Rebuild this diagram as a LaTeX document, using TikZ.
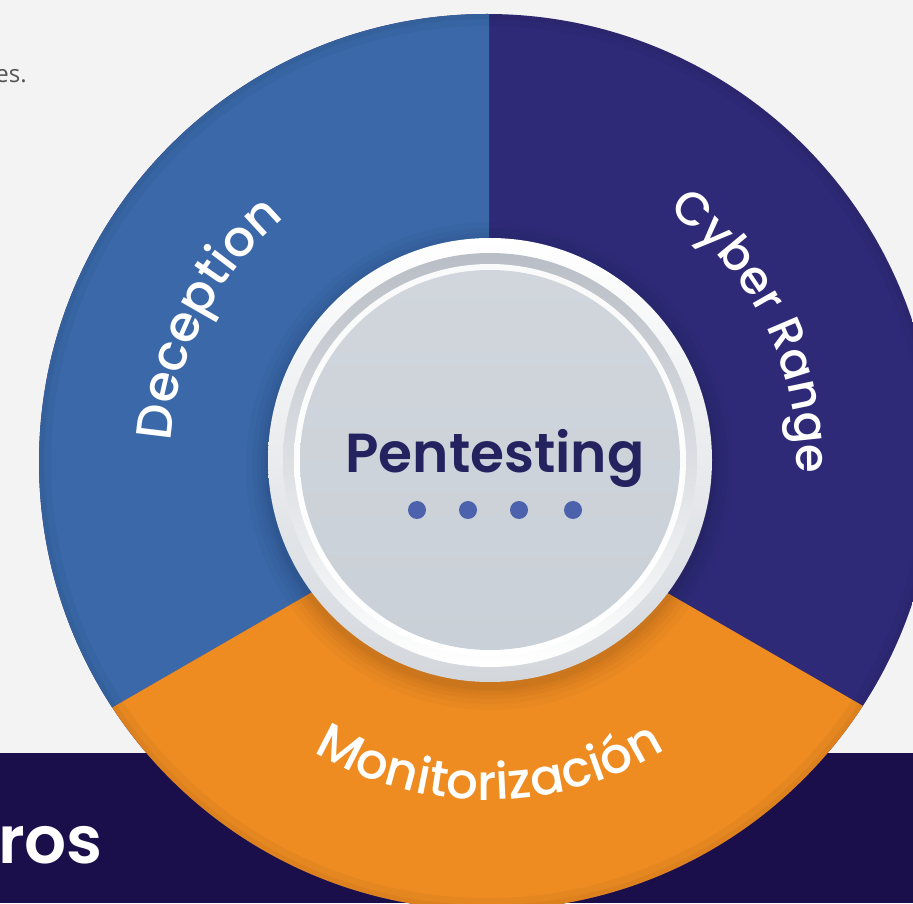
\documentclass[tikz,border=0pt]{standalone}
\usepackage{fontspec}
\setmainfont{Poppins}
\newfontfamily\labfont{Poppins Medium}
\newfontfamily\titlefont{Poppins SemiBold}
\newfontfamily\smallfont{Open Sans}
\usetikzlibrary{decorations.text}
\definecolor{bg}{HTML}{F3F3F3}
\definecolor{band}{HTML}{1A0E4B}
\definecolor{blueseg}{HTML}{3A68A8}
\definecolor{darkseg}{HTML}{2F2A78}
\definecolor{orangeseg}{HTML}{EE8C22}
\definecolor{rimbot}{HTML}{D3D7DC}
\definecolor{steptop}{HTML}{B9BEC6}
\definecolor{facetop}{HTML}{D1D6DD}
\definecolor{facebot}{HTML}{CAD0D7}
\definecolor{pentext}{HTML}{25235F}
\definecolor{dotc}{HTML}{4C62AD}
\definecolor{greytext}{HTML}{555555}
\tikzset{
  dotnode/.style={circle, fill=dotc, minimum size=18pt, inner sep=0pt},
  shadowring/.style={fill=black, fill opacity=0.022},
}
\begin{document}
\begin{tikzpicture}[x=1pt,y=1pt]
\useasboundingbox (0,0) rectangle (913,903);
\fill[bg] (0,0) rectangle (913,903);
\fill[band] (0,0) rectangle (913,150);
\node[anchor=base west, text=white, inner sep=0pt, font=\titlefont\fontsize{66}{66}\selectfont] (ros) at (-2,40) {ros};
\node[anchor=base east, text=greytext, inner sep=0pt, font=\smallfont\fontsize{24}{24}\selectfont] (es) at (27,820) {es.};

\coordinate (C) at (487,441);
\coordinate (H) at (489,413);
\coordinate (D) at (490,443);
\begin{scope}
  \clip (C) circle[radius=448];
  \fill[darkseg] (C) circle[radius=450];
  \fill[blueseg] (489,1000) -- (H) -- +(210:900) -- (-200,1000) -- cycle;
  \fill[orangeseg] (H) -- +(210:900) -- +(270:900) -- +(330:900) -- cycle;
  \foreach \r in {244,238,233,229,226,224}{
    \fill[shadowring] ([yshift=-6pt]D) circle[radius=\r];
  }
  \draw[black, opacity=0.035, line width=24pt] (C) circle[radius=448];
  \draw[black, opacity=0.04, line width=10pt] (C) circle[radius=448];
\end{scope}

\shade[top color=white, bottom color=rimbot] (D) circle[radius=222];
\shade[top color=steptop, bottom color=white] (D) circle[radius=207];
\shade[top color=white!92!steptop, bottom color=white] (D) circle[radius=196];
\shade[top color=facetop, bottom color=facebot] (D) circle[radius=190];

\node[anchor=base, text=pentext, inner sep=0pt, font=\titlefont\fontsize{55}{55}\selectfont] (pen) at (495,430) {Pentesting};
\node[dotnode] (d1) at (417,393) {};
\node[dotnode] (d2) at (468,393) {};
\node[dotnode] (d3) at (519,393) {};
\node[dotnode] (d4) at (573,393) {};

\path[decorate, decoration={text along path, text align=center,
  text={|\labfont\fontsize{50}{50}\selectfont\color{white}|Deception}}]
  ([shift={(202:317)}]C) arc[start angle=202, end angle=104, radius=317];
\path[decorate, decoration={text along path, text align=center,
  text={|\labfont\fontsize{46.5}{46.5}\selectfont\color{white}|Cyber Range}}]
  ([shift={(74:310)}]C) arc[start angle=74, end angle=-22, radius=310];
\path[decorate, decoration={text along path, text align=center,
  text={|\labfont\fontsize{50}{50}\selectfont\color{white}|Monitorización}}]
  ([shift={(214:338)}]C) arc[start angle=214, end angle=327, radius=338];
\end{tikzpicture}
\end{document}
